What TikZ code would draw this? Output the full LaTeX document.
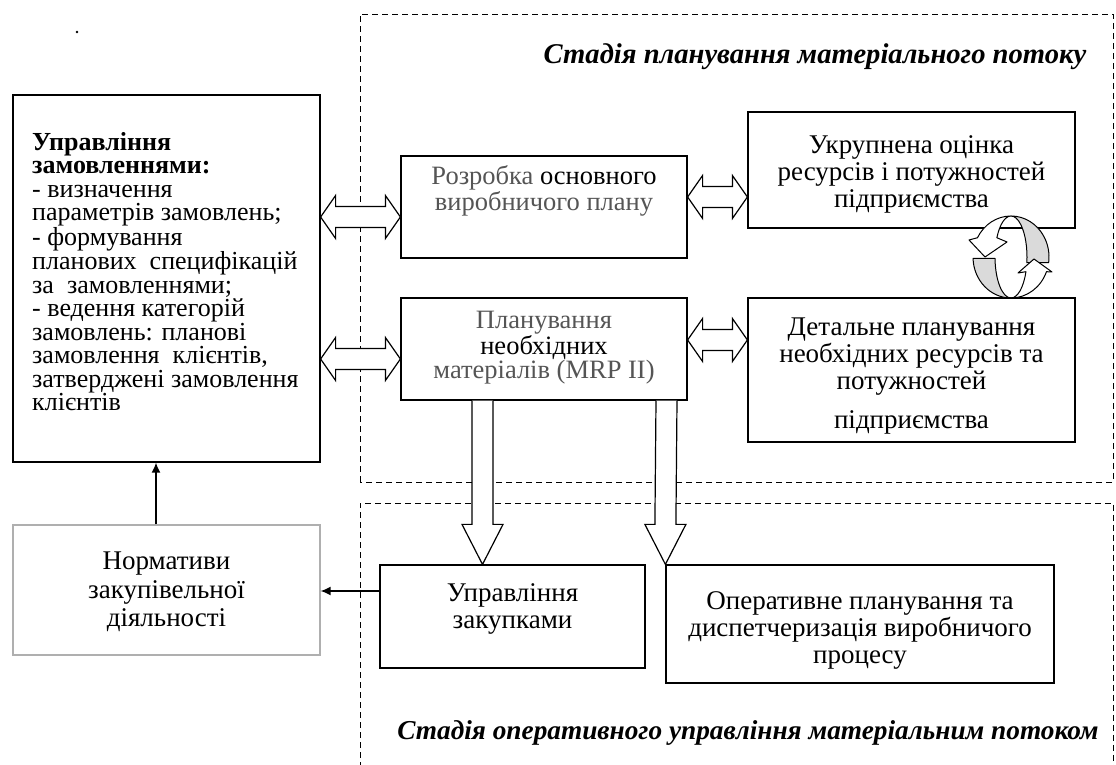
\documentclass[tikz,border=0pt]{standalone}
\usepackage{fontspec}
\setmainfont{Liberation Serif}
\usetikzlibrary{calc,arrows.meta}

% hollow double-headed horizontal arrow between two points
\newcommand\fatboth[2]{%
  \draw[hollow] let \p1=#1, \p2=#2 in
    (\x1,\y1) -- (\x1+15pt,\y1+21.5pt) -- (\x1+15pt,\y1+10.5pt)
    -- (\x2-15pt,\y2+10.5pt) -- (\x2-15pt,\y2+21.5pt) -- (\x2,\y2)
    -- (\x2-15pt,\y2-21.5pt) -- (\x2-15pt,\y2-10.5pt)
    -- (\x1+15pt,\y1-10.5pt) -- (\x1+15pt,\y1-21.5pt) -- cycle;}
% hollow downward arrow from a box edge to a tip
\newcommand\fatdown[2]{%
  \draw[hollow] let \p1=#1, \p2=#2 in
    (\x1-10.5pt,\y1) -- (\x2-10.5pt,\y2+40pt) -- (\x2-20.5pt,\y2+40pt)
    -- (\x2,\y2) -- (\x2+20.5pt,\y2+40pt) -- (\x2+10.5pt,\y2+40pt)
    -- (\x1+10.5pt,\y1);}

\definecolor{softgray}{RGB}{85,85,85}
\definecolor{framegray}{RGB}{175,175,175}
\definecolor{ringgray}{RGB}{218,218,218}

\begin{document}
\begin{tikzpicture}[x=1pt,y=1pt,
  box/.style={draw, line width=1.2pt, fill=white, inner sep=0pt},
  lightbox/.style={box, draw=framegray},
  txt/.style={align=center, inner sep=0pt, font=\fontsize{27}{27}\selectfont},
  stage/.style={draw, dashed, dash pattern=on 6pt off 4pt, line width=0.9pt},
  stagetitle/.style={inner sep=0pt, font=\fontsize{28}{30}\selectfont\bfseries\itshape},
  hollow/.style={draw, line width=1.2pt, fill=white, line join=miter},
  conn/.style={line width=1.5pt, -{Latex[length=10pt,width=9pt]}},
  ring/.style={draw, line width=1pt, line join=round},
]
\useasboundingbox (0,0) rectangle (1116,765);

% stage frames
\draw[stage] (360,283) rectangle (1113,751);
\draw[stage] (360,-3) -- (360,262) -- (1113,262) -- (1113,-3);
\node[stagetitle, font=\fontsize{28.6}{30}\selectfont\bfseries\itshape] (plantitle) at (815,708) {Стадія планування матеріального потоку};
\node[stagetitle, font=\fontsize{27.3}{30}\selectfont\bfseries\itshape] (optitle) at (748,32) {Стадія оперативного управління матеріальним потоком};

\fill (77,733) circle (1.3pt);

% boxes
\node[box, minimum width=307pt, minimum height=367pt] (orders) at (166.5,486.5) {};
\node[lightbox, minimum width=307pt, minimum height=130pt] (norms) at (166.5,175) {};
\node[box, minimum width=286pt, minimum height=102pt] (mps) at (544,558) {};
\node[box, minimum width=286pt, minimum height=102pt] (mrp) at (544,416) {};
\node[box, minimum width=327pt, minimum height=116pt] (rough) at (911.5,595) {};
\node[box, minimum width=327pt, minimum height=144pt] (detail) at (911.5,395) {};
\node[box, minimum width=265pt, minimum height=103pt] (purch) at (512.5,148.5) {};
\node[box, minimum width=388pt, minimum height=118pt] (dispatch) at (860,141) {};

% texts
\node[anchor=west, align=left, inner sep=0pt, font=\fontsize{26}{23.5}\selectfont] (orderstxt) at (32,493.5)
  {\textbf{Управління}\\\textbf{замовленнями:}\\- визначення\\параметрів замовлень;\\- формування\\
   планових~ специфікацій\\за~ замовленнями;\\- ведення категорій\\замовлень: планові\\
   замовлення~ клієнтів,\\затверджені замовлення\\клієнтів};
\node[txt, font=\fontsize{27}{28.5}\selectfont] (normstxt) at (166.5,173) {Нормативи\\закупівельної\\діяльності};
\node[txt, font=\fontsize{26.5}{26}\selectfont] (mpstxt) at (544,574) {\textcolor{softgray}{Розробка} основного\\\textcolor{softgray}{виробничого плану}};
\node[txt, font=\fontsize{26.5}{24}\selectfont] (mrptxt) at (544,417.5) {\textcolor{softgray}{Планування}\\необхідних\\\textcolor{softgray}{матеріалів (MRP II)}};
\node[txt] (roughtxt) at (911.5,591) {Укрупнена оцінка\\ресурсів і потужностей\\підприємства};
\node[txt] (detailtxt) at (911.5,388.5) {Детальне планування\\необхідних ресурсів та\\потужностей\\[12pt]підприємства};
\node[txt] (purchtxt) at (512.5,156.5) {Управління\\закупками};
\node[txt] (dispatchtxt) at (860,135) {Оперативне планування та\\диспетчеризація виробничого\\процесу};

% helper coordinates for connector positions
\coordinate (xnorm) at (156,0);
\coordinate (ybuy) at (0,174);
\coordinate (yup) at (0,548);
\coordinate (ylow) at (0,406);
\coordinate (yrup) at (0,568);
\coordinate (yrlow) at (0,425);
\coordinate (xleft) at (482.5,0);
\coordinate (xright) at (666.5,0);

% thin arrows
\draw[conn] (norms.north -| xnorm) -- (orders.south -| xnorm);
\draw[conn] (purch.west |- ybuy) -- (norms.east |- ybuy);

% hollow two-way arrows
\fatboth{(orders.east |- yup)}{(mps.west |- yup)}
\fatboth{(orders.east |- ylow)}{(mrp.west |- ylow)}
\fatboth{(mps.east |- yrup)}{(rough.west |- yrup)}
\fatboth{(mrp.east |- yrlow)}{(detail.west |- yrlow)}

% hollow downward arrows
\fatdown{(mrp.south -| xleft)}{(purch.north -| xleft)}
\fatdown{(mrp.south -| xright)}{(dispatch.north west)}

% circular arrows between the two resource boxes
\coordinate (rc) at (1011,508);
\filldraw[ring, fill=ringgray] ($(rc)+(90:38 and 41)$)
  arc[start angle=90, end angle=-8, x radius=38pt, y radius=41pt]
  -- ($(rc)+(-8:16 and 41)$)
  arc[start angle=-8, end angle=90, x radius=16pt, y radius=41pt] -- cycle;
\filldraw[ring, fill=ringgray] ($(rc)+(182:38 and 41)$)
  arc[start angle=182, end angle=270, x radius=38pt, y radius=41pt]
  arc[start angle=270, end angle=182, x radius=16pt, y radius=41pt] -- cycle;
\filldraw[ring, fill=white] ($(rc)+(90:38 and 41)$)
  arc[start angle=90, end angle=152, x radius=38pt, y radius=41pt]
  -- ($(rc)+(-42,17)$) -- ($(rc)+(-26,0)$) -- ($(rc)+(-4,15)$)
  -- ($(rc)+(152:16 and 41)$)
  arc[start angle=152, end angle=90, x radius=16pt, y radius=41pt] -- cycle;
\filldraw[ring, fill=white] ($(rc)+(270:38 and 41)$)
  arc[start angle=270, end angle=339, x radius=38pt, y radius=41pt]
  -- ($(rc)+(41,-15)$) -- ($(rc)+(23,-2)$) -- ($(rc)+(7,-16)$)
  -- ($(rc)+(339:16 and 41)$)
  arc[start angle=339, end angle=270, x radius=16pt, y radius=41pt] -- cycle;
\end{tikzpicture}
\end{document}
